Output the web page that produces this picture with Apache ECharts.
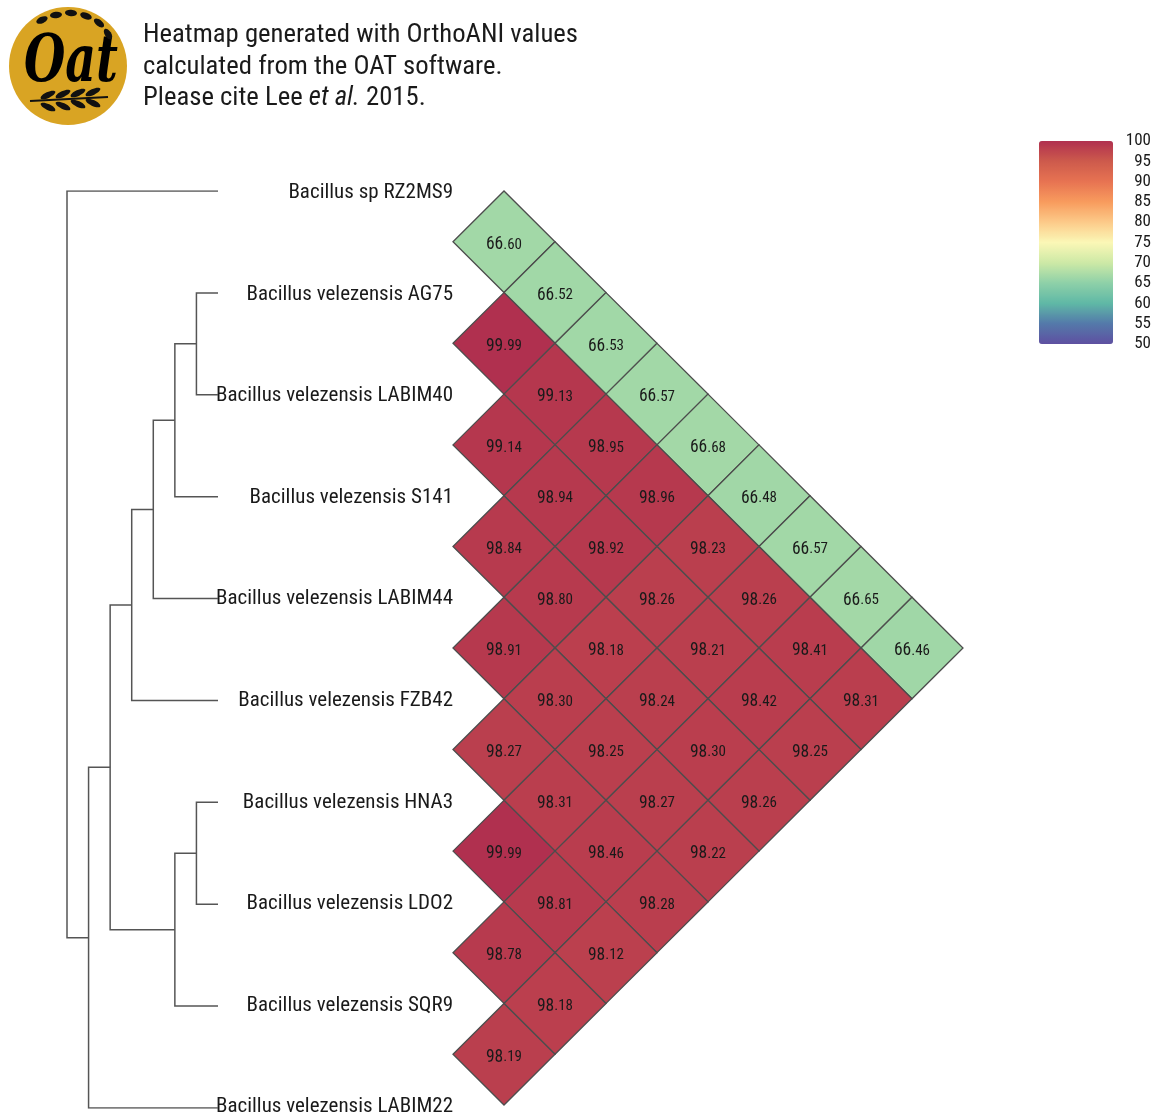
<!DOCTYPE html>
<html>
<head>
<meta charset="utf-8">
<script src="https://cdn.jsdelivr.net/npm/echarts@6/dist/echarts.min.js"></script>
<style>
  html, body { margin: 0; padding: 0; background: #fff; }
  #chart { width: 1159px; height: 1119px; }
</style>
</head>
<body>
<div id="chart"></div>
<script>
// taxa in dendrogram order (top to bottom)
const taxa = [
    'Bacillus sp RZ2MS9',
    'Bacillus velezensis AG75',
    'Bacillus velezensis LABIM40',
    'Bacillus velezensis S141',
    'Bacillus velezensis LABIM44',
    'Bacillus velezensis FZB42',
    'Bacillus velezensis HNA3',
    'Bacillus velezensis LDO2',
    'Bacillus velezensis SQR9',
    'Bacillus velezensis LABIM22',
];

// OrthoANI upper triangle: aniRows[i][k] is taxa[i] vs taxa[i + 1 + k]
const aniRows = [
    [66.60, 66.52, 66.53, 66.57, 66.68, 66.48, 66.57, 66.65, 66.46],
    [99.99, 99.13, 98.95, 98.96, 98.23, 98.26, 98.41, 98.31],
    [99.14, 98.94, 98.92, 98.26, 98.21, 98.42, 98.25],
    [98.84, 98.80, 98.18, 98.24, 98.30, 98.26],
    [98.91, 98.30, 98.25, 98.27, 98.22],
    [98.27, 98.31, 98.46, 98.28],
    [99.99, 98.81, 98.12],
    [98.78, 98.18],
    [98.19],
];

// dendrogram merges: [left, right, height]; numbers are leaves, 'nK' is merge K
const merges = [
    [1, 2, 1],
    ['n0', 3, 2],
    ['n1', 4, 3],
    ['n2', 5, 4],
    [6, 7, 1],
    ['n4', 8, 2],
    ['n3', 'n5', 5],
    ['n6', 9, 6],
    [0, 'n7', 7],
];

const legendTicks = [50, 55, 60, 65, 70, 75, 80, 85, 90, 95, 100];
const legendColors = ['#5e50a1', '#5479aa', '#5fb8a6', '#8ed0a8', '#cde9a6', '#fbf7b6',
    '#fcca89', '#f89b5d', '#e77352', '#cd5a4c', '#b0304f'];

const labelFont = "'Roboto Condensed', 'Liberation Sans Narrow', 'DejaVu Sans Condensed', Roboto, sans-serif";

// heatmap cells: x = distance in the order, y = midpoint of the two rows
const cells = [];
aniRows.forEach((row, i) => {
    row.forEach((v, k) => {
        const j = i + 1 + k;
        cells.push([j - i, (i + j) / 2, v]);
    });
});

// dendrogram polylines
const nodePos = {};
function pos(ref) {
    if (typeof ref === 'number') return [0, ref];
    return nodePos[ref];
}
const treeLines = merges.map((m, k) => {
    const a = pos(m[0]);
    const b = pos(m[1]);
    const h = m[2];
    nodePos['n' + k] = [h, (a[1] + b[1]) / 2];
    return { coords: [[a[0], a[1]], [h, a[1]], [h, b[1]], [b[0], b[1]]] };
});

function renderCell(params, api) {
    const d = api.value(0);
    const yc = api.value(1);
    const v = api.value(2);
    const l = api.coord([d - 1, yc]);
    const r = api.coord([d + 1, yc]);
    const t = api.coord([d, yc - 0.5]);
    const b = api.coord([d, yc + 0.5]);
    const c = api.coord([d, yc]);
    const s = v.toFixed(2).split('.');
    return {
        type: 'group',
        children: [{
            type: 'polygon',
            shape: { points: [l, t, r, b] },
            style: { fill: api.visual('color'), stroke: '#4d4d4d', lineWidth: 1.3 }
        }, {
            type: 'text',
            x: c[0],
            y: c[1] + 3,
            style: {
                text: '{a|' + s[0] + '}{b|.' + s[1] + '}',
                align: 'center',
                verticalAlign: 'middle',
                rich: {
                    a: { fontSize: 17.5, fontFamily: labelFont, fill: '#1a1a1a' },
                    b: { fontSize: 15, fontFamily: labelFont, fill: '#1a1a1a' }
                }
            }
        }]
    };
}

// logo decoration
const logo = [{
    type: 'circle', shape: { cx: 68, cy: 66, r: 59 }, style: { fill: '#d9a423' }
}, {
    type: 'text', x: 71, y: 64, scaleX: 0.95, scaleY: 1.3,
    style: { text: 'Oat', fontFamily: "'DejaVu Serif', serif", fontWeight: 'bold', fontStyle: 'italic',
        fontSize: 50, fill: '#000', align: 'center', verticalAlign: 'middle' }
}];
[[42, 20, -25], [56, 15, -8], [71, 13, 5], [86, 16, 20], [99, 23, 38], [108, 34, 58]].forEach(g => {
    logo.push({ type: 'ellipse', shape: { cx: g[0], cy: g[1], rx: 6, ry: 3.2 }, rotation: -g[2] * Math.PI / 180,
        originX: g[0], originY: g[1], style: { fill: '#111' } });
});
logo.push({ type: 'line', shape: { x1: 30, y1: 101, x2: 108, y2: 97 }, style: { stroke: '#111', lineWidth: 2 } });
[[48, 95, 25], [63, 94, 25], [78, 93, 25], [93, 92, 25], [48, 107, -25], [63, 106, -25], [78, 104, -25], [93, 103, -25]].forEach(g => {
    logo.push({ type: 'ellipse', shape: { cx: g[0], cy: g[1], rx: 8, ry: 3 }, rotation: g[2] * Math.PI / 180,
        originX: g[0], originY: g[1], style: { fill: '#111' } });
});

const chart = echarts.init(document.getElementById('chart'));
chart.setOption({
    animation: false,
    backgroundColor: '#fff',
    graphic: logo.concat([{
        type: 'text', left: 143, top: 20,
        style: {
            text: 'Heatmap generated with OrthoANI values\ncalculated from the OAT software.\nPlease cite Lee {i|et al.} 2015.',
            fontFamily: labelFont, fontSize: 26.7, lineHeight: 31.5, fill: '#1a1a1a',
            rich: { i: { fontStyle: 'italic', fontFamily: labelFont, fontSize: 26.7, fill: '#1a1a1a' } }
        }
    }]),
    grid: [
        { left: 67, width: 151, top: 191, height: 917 },
        { left: 453, width: 510, top: 191, height: 917 },
        { left: 1150, width: 1, top: 141, height: 203 },
    ],
    xAxis: [
        { gridIndex: 0, type: 'value', min: 0, max: 7, inverse: true, show: false },
        { gridIndex: 1, type: 'value', min: 0, max: 10, show: false },
        { gridIndex: 2, type: 'value', min: 0, max: 1, show: false },
    ],
    yAxis: [
        { gridIndex: 0, type: 'value', min: 0, max: 9, inverse: true, show: false },
        {
            gridIndex: 1, type: 'value', min: 0, max: 9, interval: 1, inverse: true,
            axisLine: { show: false }, axisTick: { show: false }, splitLine: { show: false },
            axisLabel: {
                margin: 0, fontSize: 21, fontFamily: labelFont, color: '#1a1a1a',
                verticalAlign: 'top', lineHeight: 24, padding: [-10, 0, 0, 0],
                formatter: v => taxa[v] || ''
            }
        },
        {
            gridIndex: 2, type: 'value', min: 50, max: 100, interval: 5, position: 'left',
            axisLine: { show: false }, axisTick: { show: false }, splitLine: { show: false },
            axisLabel: { margin: -1, align: 'right', fontSize: 17, fontFamily: labelFont, color: '#1a1a1a' }
        },
    ],
    visualMap: {
        type: 'continuous',
        min: 50, max: 100,
        dimension: 2,
        seriesIndex: 1,
        left: 1039, top: 141,
        padding: 0,
        itemWidth: 74, itemHeight: 203,
        calculable: false, hoverLink: false,
        text: null,
        inRange: { color: legendColors }
    },
    series: [{
        type: 'lines',
        coordinateSystem: 'cartesian2d',
        xAxisIndex: 0, yAxisIndex: 0,
        polyline: true,
        silent: true,
        lineStyle: { color: '#555', width: 1.5, opacity: 1 },
        data: treeLines
    }, {
        type: 'custom',
        xAxisIndex: 1, yAxisIndex: 1,
        renderItem: renderCell,
        data: cells
    }]
});
</script>
</body>
</html>
